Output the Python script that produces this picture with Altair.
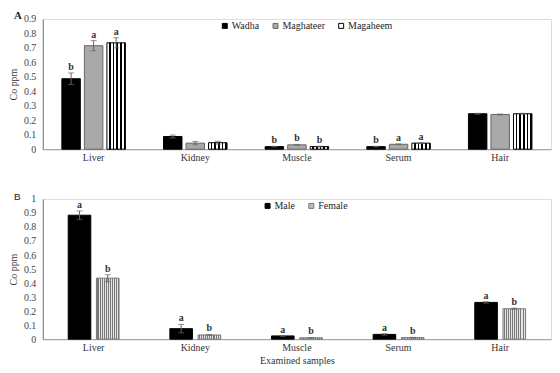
import altair as alt
import pandas as pd

tissues = ["Liver", "Kidney", "Muscle", "Serum", "Hair"]

# Panel A
groups_a = ["Wadha", "Maghateer", "Magaheem"]
wadha = [0.487, 0.088, 0.018, 0.018, 0.245]
wadha_err = [0.04, 0.01, 0.002, 0.002, 0.003]
wadha_sig = ["b", "", "b", "b", ""]
maghateer = [0.715, 0.042, 0.030, 0.034, 0.240]
maghateer_err = [0.035, 0.012, 0.003, 0.003, 0.003]
maghateer_sig = ["a", "", "b", "a", ""]
magaheem = [0.735, 0.045, 0.018, 0.042, 0.245]
magaheem_err = [0.035, 0.01, 0.003, 0.003, 0.003]
magaheem_sig = ["a", "", "b", "a", ""]

# Panel B
groups_b = ["Male", "Female"]
male = [0.884, 0.075, 0.023, 0.034, 0.262]
male_err = [0.03, 0.03, 0.003, 0.005, 0.005]
male_sig = ["a", "a", "a", "a", "a"]
female = [0.435, 0.030, 0.010, 0.011, 0.217]
female_err = [0.025, 0.004, 0.002, 0.002, 0.004]
female_sig = ["b", "b", "b", "b", "b"]

SERIF = "Liberation Serif"


def frame(groups, vals, errs, sigs):
    rows = []
    for g, v, e, s in zip(groups, vals, errs, sigs):
        for t, vv, ee, ss in zip(tissues, v, e, s):
            rows.append({"tissue": t, "group": g, "value": vv, "lo": vv - ee,
                         "hi": vv + ee, "sig": ss})
    return pd.DataFrame(rows)


def stripes(c1, c2, n, frac):
    stops = []
    for i in range(n):
        a = i / n
        b = (i + frac) / n
        c = (i + 1) / n
        stops += [{"offset": a, "color": c1}, {"offset": b, "color": c1},
                  {"offset": b, "color": c2}, {"offset": c, "color": c2}]
    return {"gradient": "linear", "x1": 0, "x2": 1, "y1": 0, "y2": 0, "stops": stops}


df_a = frame(groups_a, [wadha, maghateer, magaheem],
             [wadha_err, maghateer_err, magaheem_err],
             [wadha_sig, maghateer_sig, magaheem_sig])
df_b = frame(groups_b, [male, female], [male_err, female_err], [male_sig, female_sig])


def panel(df, groups, colors, strokes, pattern_group, pattern, ymax, ticks,
          pad_inner, off_pad, legend_x, letter, letter_y, letter_style, xtitle,
          width, height):
    x = alt.X("tissue:N", sort=tissues,
              scale=alt.Scale(paddingInner=pad_inner, paddingOuter=pad_inner / 2),
              axis=alt.Axis(title=xtitle, labelAngle=0, ticks=False, labelPadding=3,
                            labelFont=SERIF, labelFontSize=10, labelColor="#333",
                            domainColor="#999", titleFont=SERIF, titleFontSize=10,
                            titleFontWeight="normal", titleColor="#333", titlePadding=3))
    xo = alt.XOffset("group:N", sort=groups,
                     scale=alt.Scale(paddingInner=off_pad, paddingOuter=0))
    yscale = alt.Scale(domain=[0, ymax], nice=False)
    yaxis = alt.Axis(title="Co ppm", values=ticks, grid=False, ticks=False,
                     labelOverlap=False, labelFlush=False,
                     labelFont=SERIF, labelFontSize=10, labelColor="#444",
                     domainColor="#777", labelPadding=7,
                     format="~g", titleFont=SERIF, titleFontSize=10,
                     titleFontWeight="normal", titleColor="#333",
                     titlePadding=5)

    def Y(f):
        return alt.Y(f, scale=yscale, axis=yaxis)

    fill = alt.condition(alt.datum.group == pattern_group, alt.value(pattern),
                         alt.Fill("group:N", sort=groups,
                                  scale=alt.Scale(domain=groups, range=colors),
                                  legend=alt.Legend(title=None, orient="none",
                                                    direction="horizontal",
                                                    legendX=legend_x, legendY=2,
                                                    symbolType="square", symbolSize=25,
                                                    symbolStrokeColor="#000",
                                                    symbolStrokeWidth=1,
                                                    labelFont=SERIF, labelFontSize=10,
                                                    labelColor="#222", columnPadding=11,
                                                    symbolOffset=0, labelOffset=2)))
    bars = alt.Chart(df).mark_bar(strokeWidth=1).encode(
        x=x, xOffset=xo, y=Y("value:Q"), fill=fill,
        stroke=alt.Stroke("group:N", sort=groups,
                          scale=alt.Scale(domain=groups, range=strokes), legend=None))
    rule = alt.Chart(df).mark_rule(color="#666", strokeWidth=1).encode(
        x=x, xOffset=xo, y=Y("lo:Q"), y2="hi:Q")
    cap_hi = alt.Chart(df).mark_tick(color="#666", size=6, thickness=1,
                                     orient="horizontal").encode(
        x=x, xOffset=xo, y=Y("hi:Q"))
    cap_lo = alt.Chart(df).mark_tick(color="#666", size=6, thickness=1,
                                     orient="horizontal").encode(
        x=x, xOffset=xo, y=Y("lo:Q"))
    sig = alt.Chart(df).mark_text(font=SERIF, fontSize=10, fontWeight="bold",
                                  color="#333", baseline="bottom", dy=-1).encode(
        x=x, xOffset=xo, y=Y("hi:Q"), text="sig:N")
    lab = alt.Chart(pd.DataFrame({"t": [letter]})).mark_text(
        align="left", baseline="middle", color="#222", **letter_style).encode(
        x=alt.value(-29), y=alt.value(letter_y), text="t:N")
    return alt.layer(bars, rule, cap_hi, cap_lo, sig, lab).properties(
        width=width, height=height)


grad_mag = stripes("#ffffff", "#000000", 5, 0.55)
grad_fem = stripes("#e6e6e6", "#777777", 11, 0.5)

pa = panel(df_a, groups_a, ["#000000", "#a9a9a9", "#ffffff"],
           ["#000000", "#666666", "#000000"], "Magaheem", grad_mag, 0.9,
           [0, 0.1, 0.2, 0.3, 0.4, 0.5, 0.6, 0.7, 0.8, 0.9],
           0.375, 0.18, 178, "A", -3,
           {"font": SERIF, "fontSize": 11, "fontWeight": "bold"}, None, 511, 131)
pb = panel(df_b, groups_b, ["#000000", "#bbbbbb"],
           ["#000000", "#777777"], "Female", grad_fem, 1.0,
           [0, 0.1, 0.2, 0.3, 0.4, 0.5, 0.6, 0.7, 0.8, 0.9, 1],
           0.5, 0.2, 221, "B", -2,
           {"font": "Liberation Sans", "fontSize": 10}, "Examined samples", 511, 141)

chart = alt.vconcat(pa, pb, spacing=28).resolve_scale(
    fill="independent", stroke="independent", x="independent", y="independent",
    xOffset="independent").properties(
    padding={"left": 0, "top": 0, "right": 0, "bottom": 0}
).configure_view(stroke=None).configure(background="white")

chart.save("out.html", embed_options={"renderer": "svg", "actions": False})
